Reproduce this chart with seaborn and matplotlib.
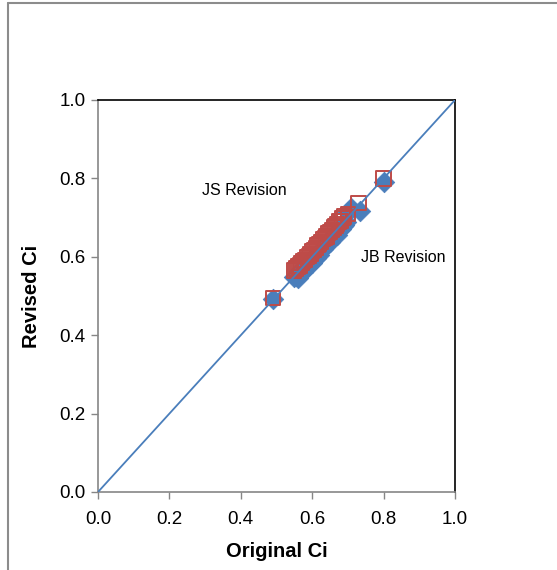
import matplotlib
matplotlib.use("Agg")
import matplotlib.pyplot as plt
import seaborn as sns
import pandas as pd
from matplotlib.lines import Line2D

# Data
jb_original = [0.49, 0.55, 0.555, 0.56, 0.562, 0.57, 0.575, 0.58, 0.585, 0.59, 0.595, 0.60,
               0.605, 0.61, 0.615, 0.62, 0.625, 0.63, 0.635, 0.64, 0.645, 0.65, 0.655, 0.66,
               0.665, 0.67, 0.675, 0.68, 0.685, 0.69, 0.695, 0.70, 0.71, 0.735, 0.80]
jb_revised = [0.493, 0.548, 0.552, 0.545, 0.565, 0.558, 0.56, 0.572, 0.575, 0.578, 0.59, 0.585,
              0.60, 0.598, 0.61, 0.605, 0.618, 0.62, 0.628, 0.632, 0.64, 0.638, 0.648, 0.652,
              0.66, 0.655, 0.668, 0.67, 0.678, 0.682, 0.69, 0.715, 0.725, 0.718, 0.79]
js_original = [0.49, 0.55, 0.555, 0.56, 0.565, 0.57, 0.575, 0.58, 0.585, 0.59, 0.595, 0.60,
               0.605, 0.61, 0.615, 0.62, 0.625, 0.63, 0.635, 0.64, 0.645, 0.65, 0.655, 0.66,
               0.665, 0.67, 0.675, 0.68, 0.685, 0.69, 0.70, 0.73, 0.80]
js_revised = [0.495, 0.565, 0.57, 0.575, 0.578, 0.585, 0.59, 0.592, 0.60, 0.603, 0.608, 0.615,
              0.618, 0.622, 0.63, 0.633, 0.638, 0.645, 0.648, 0.652, 0.66, 0.663, 0.668, 0.675,
              0.678, 0.683, 0.69, 0.692, 0.698, 0.703, 0.71, 0.737, 0.80]
diag = [0.0, 1.0]
ticks = [0.0, 0.2, 0.4, 0.6, 0.8, 1.0]
tick_labels = ["0.0", "0.2", "0.4", "0.6", "0.8", "1.0"]

sns.set_style("white")
plt.rcParams['font.family'] = ['Liberation Sans', 'DejaVu Sans']
plt.rcParams['text.color'] = 'black'
plt.rcParams['axes.labelcolor'] = 'black'
plt.rcParams['xtick.color'] = 'black'
plt.rcParams['ytick.color'] = 'black'

fig = plt.figure(figsize=(5.57, 5.70), dpi=100)
W, H = 557, 570
ax = fig.add_axes([98 / W, 1 - 492 / H, (455 - 98) / W, (492 - 100) / H])

blue = "#4A7EBB"
red = "#BE4B48"

df_jb = pd.DataFrame({"Original Ci": jb_original, "Revised Ci": jb_revised})
df_js = pd.DataFrame({"Original Ci": js_original, "Revised Ci": js_revised})
df_d = pd.DataFrame({"x": diag, "y": diag})

sns.scatterplot(data=df_jb, x="Original Ci", y="Revised Ci", marker="D", s=110,
                color=blue, edgecolor=blue, linewidth=0.5, ax=ax, zorder=2)
sns.scatterplot(data=df_js, x="Original Ci", y="Revised Ci", marker="s", s=105,
                facecolor="none", edgecolor=red, linewidth=1.4, ax=ax, zorder=3)
sns.lineplot(data=df_d, x="x", y="y", color="#4A7EBB", linewidth=1.3, ax=ax, zorder=4)

ax.set_xlim(0, 1)
ax.set_ylim(0, 1)
ax.set_xticks(ticks)
ax.set_xticklabels(tick_labels)
ax.set_yticks(ticks)
ax.set_yticklabels(tick_labels)
ax.tick_params(axis="both", which="both", direction="out", length=5, width=1,
               color="#868686", labelcolor="black", labelsize=13.5, bottom=True, left=True)
ax.tick_params(axis="y", pad=4)
ax.tick_params(axis="x", pad=9)
for side in ["left", "bottom"]:
    ax.spines[side].set_color("#868686")
    ax.spines[side].set_linewidth(1.2)
for side in ["top", "right"]:
    ax.spines[side].set_color("black")
    ax.spines[side].set_linewidth(1.2)

ax.set_xlabel("Original Ci", fontsize=14.5, fontweight="bold", labelpad=10, color="black")
ax.set_ylabel("Revised Ci", fontsize=14.5, fontweight="bold", labelpad=13, color="black")

ax.text(0.41, 0.77, "JS Revision", fontsize=11.5, ha="center", va="center", color="black")
ax.text(0.855, 0.597, "JB Revision", fontsize=11.5, ha="center", va="center", color="black")

# outer chart border (left and top visible)
fig.add_artist(Line2D([8 / W, 8 / W], [0, 1 - 3 / H], transform=fig.transFigure,
                      color="#8c8c8c", linewidth=1.5))
fig.add_artist(Line2D([8 / W, 1], [1 - 3 / H, 1 - 3 / H], transform=fig.transFigure,
                      color="#8c8c8c", linewidth=1.5))

fig.savefig("out.png", dpi=100)
